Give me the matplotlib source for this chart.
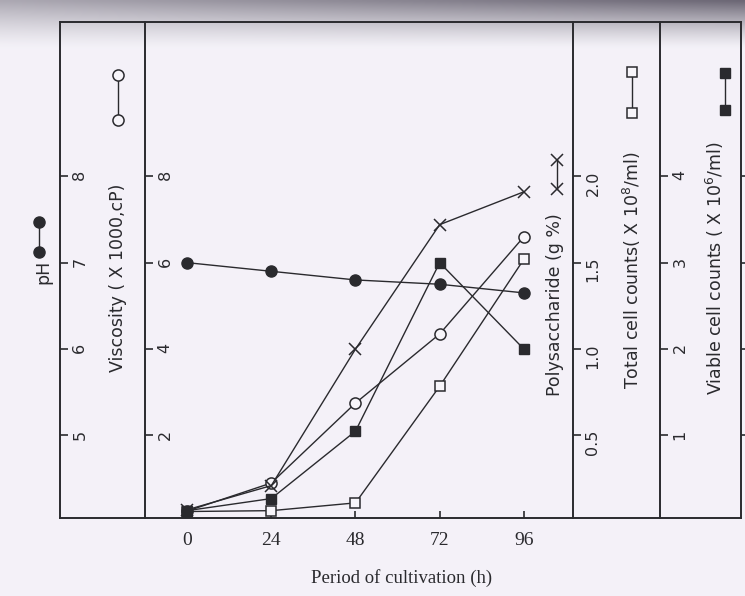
import matplotlib.pyplot as plt
import numpy as np
from matplotlib.lines import Line2D

# sampling times (h)
hours = [0, 24, 48, 72, 96]

# series
ph = [7.0, 6.9, 6.8, 6.75, 6.65]
viscosity = [0.25, 0.9, 2.75, 4.35, 6.6]          # x 1000 cP
polysaccharide = [0.07, 0.21, 1.0, 1.72, 1.91]   # g %
total_cells = [0.12, 0.13, 0.22, 1.57, 3.04]     # x 10^8 /ml
viable_cells = [0.13, 0.27, 1.05, 3.0, 2.0]      # x 10^6 /ml

ph_ticks = [5, 6, 7, 8]
visc_ticks = [2, 4, 6, 8]
poly_ticks = [0.5, 1.0, 1.5, 2.0]
poly_labels = ["0.5", "1.0", "1.5", "2.0"]
cell_ticks = [1, 2, 3, 4]

ink = "#2a2a2e"
paper = np.array([0.957, 0.949, 0.973])
W, H = 745, 596

fig = plt.figure(figsize=(7.45, 5.96), dpi=100)

# scanned page background with the dark band along the top edge
bg = fig.add_axes([0, 0, 1, 1], zorder=-10)
hh = np.linspace(0, 1, 300)[:, None]
ww = np.linspace(0, 1, 200)[None, :]
shade = np.clip(1 - hh / 0.08, 0, 1) ** 1.3 * (0.45 + 0.4 * ww)
dark = np.array([0.33, 0.31, 0.37])
img = paper * (1 - shade[..., None]) + dark * shade[..., None]
bg.imshow(img, aspect="auto", extent=[0, 1, 0, 1], origin="upper",
          interpolation="bilinear")
bg.axis("off")

# main frame (viscosity axis on the left, polysaccharide on the right)
ax = fig.add_axes([145 / W, 78 / H, 428 / W, 496 / H])
ax.set_facecolor("none")
ax.set_xlim(-12, 110)
vis_lim = (0.09, 11.57)
ax.set_ylim(*vis_lim)
for s in ["left", "right", "top", "bottom"]:
    ax.spines[s].set_visible(False)
ax.set_yticks([])
ax.set_xticks(hours)
ax.tick_params(axis="x", direction="in", length=5, width=1.2, pad=10,
               labelsize=14, colors=ink, labelfontfamily="Liberation Serif")

# long top and bottom rules spanning all axes
for yy in [0, 1]:
    ax.plot([-0.199, 1.393], [yy, yy], transform=ax.transAxes, color=ink,
            lw=1.4, clip_on=False)


def side_axis(pos, lim, ticks, labels, show_labels=True):
    t = ax.twinx()
    t.set_ylim(*lim)
    for s in ["left", "top", "bottom"]:
        t.spines[s].set_visible(False)
    t.spines["right"].set_position(("axes", pos))
    t.spines["right"].set_linewidth(1.4)
    t.spines["right"].set_color(ink)
    t.set_yticks(ticks)
    t.set_yticklabels(labels)
    t.tick_params(axis="y", direction="out", length=6, width=1.2, pad=3,
                  labelsize=11.5, labelrotation=90, colors=ink,
                  labelright=show_labels)
    return t


ax_ph = side_axis(-0.199, (4 + vis_lim[0] / 2, 4 + vis_lim[1] / 2),
                  ph_ticks, [str(v) for v in ph_ticks])
ax_vis = side_axis(0.0, vis_lim, visc_ticks, [str(v) for v in visc_ticks])
ax_poly = side_axis(1.0, (vis_lim[0] / 4, vis_lim[1] / 4), poly_ticks, poly_labels)
ax_tot = side_axis(1.203, (vis_lim[0] / 2, vis_lim[1] / 2),
                   cell_ticks, [str(v) for v in cell_ticks])
# labels of the last axis fall beyond the page edge in the scan
ax_via = side_axis(1.393, (vis_lim[0] / 2, vis_lim[1] / 2),
                   cell_ticks, [str(v) for v in cell_ticks], show_labels=False)

face = "#f7f5fa"
ax_ph.plot(hours, ph, color=ink, lw=1, marker="o", ms=8, mfc=ink, mec=ink)
ax_vis.plot(hours, viscosity, color=ink, lw=1, marker="o", ms=8, mfc=face, mec=ink, mew=1.1)
ax_poly.plot(hours, polysaccharide, color=ink, lw=1, marker="x", ms=9, mew=1.1)
ax_tot.plot(hours, total_cells, color=ink, lw=1, marker="s", ms=7.5, mfc=face, mec=ink, mew=1.1)
ax_via.plot(hours, viable_cells, color=ink, lw=1, marker="s", ms=7, mfc=ink, mec=ink)

# axis titles (rotated, left of each axis line)
titles = [
    ("pH", 43, 272),
    ("Viscosity ( X 1000,cP)", 118, 278),
    ("Polysaccharide (g %)", 555, 305),
    ("Total cell counts( X 10$^{8}$/ml)", 632, 270),
    ("Viable cell counts ( X 10$^{6}$/ml)", 715, 268),
]
for txt, x, y in titles:
    fig.text(x / W, 1 - y / H, txt, rotation=90, ha="center", va="center",
             fontsize=12.5, color=ink)

# legend keys above each title
keys = [
    (39, 222, 252, dict(marker="o", ms=8, mfc=ink, mec=ink)),
    (118, 75, 120, dict(marker="o", ms=8, mfc=face, mec=ink, mew=1.1)),
    (557, 160, 189, dict(marker="x", ms=9, mew=1.1)),
    (632, 72, 113, dict(marker="s", ms=7.5, mfc=face, mec=ink, mew=1.1)),
    (725, 73, 110, dict(marker="s", ms=7, mfc=ink, mec=ink)),
]
for x, y1, y2, style in keys:
    fig.add_artist(Line2D([x / W, x / W], [1 - y1 / H, 1 - y2 / H],
                          transform=fig.transFigure, color=ink, lw=1, **style))

fig.text(402 / W, 1 - 578 / H, "Period of cultivation (h)", ha="center",
         va="center", fontsize=13.5, family="Liberation Serif", color=ink)

fig.savefig("out.png", dpi=100)
